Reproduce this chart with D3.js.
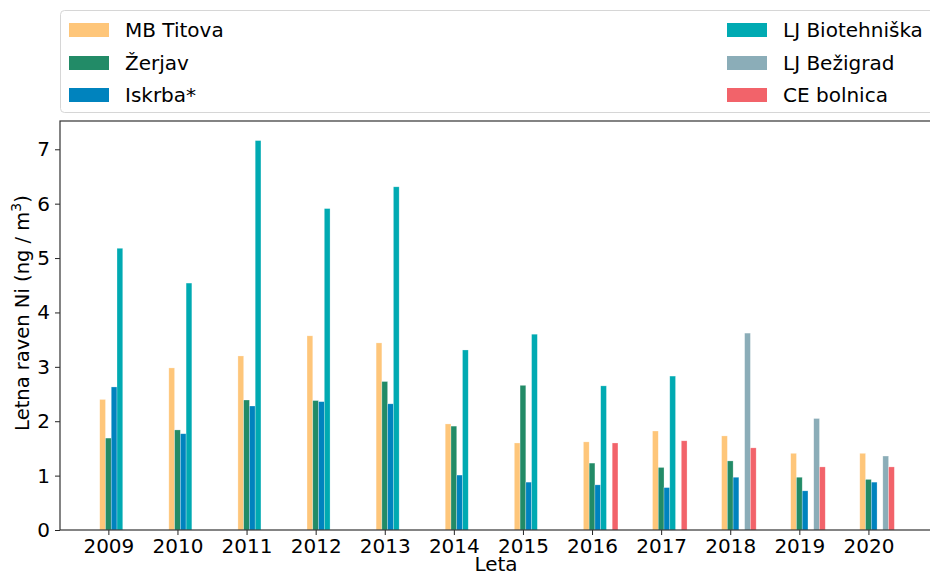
<!DOCTYPE html>
<html>
<head>
<meta charset="utf-8">
<script src="https://cdn.jsdelivr.net/npm/d3@7"></script>
<style>
  html, body { margin: 0; padding: 0; background: #fff; }
  svg { display: block; font-family: "DejaVu Sans", sans-serif; }
</style>
</head>
<body>
<svg id="chart" width="930" height="576"></svg>
<script>
// Annual nickel levels (ng/m3) per measuring station
const years = [2009, 2010, 2011, 2012, 2013, 2014, 2015, 2016, 2017, 2018, 2019, 2020];
const stations = ["MB Titova", "Žerjav", "Iskrba*", "LJ Biotehniška", "LJ Bežigrad", "CE bolnica"];
const mbTitova      = [2.40, 2.98, 3.20, 3.57, 3.44, 1.95, 1.60, 1.62, 1.82, 1.73, 1.41, 1.41];
const zerjav        = [1.69, 1.84, 2.39, 2.38, 2.73, 1.91, 2.66, 1.23, 1.15, 1.27, 0.97, 0.93];
const iskrba        = [2.63, 1.77, 2.28, 2.36, 2.32, 1.01, 0.88, 0.83, 0.78, 0.97, 0.72, 0.88];
const ljBiotehniska = [5.18, 4.54, 7.16, 5.91, 6.31, 3.31, 3.60, 2.65, 2.83, null, null, null];
const ljBezigrad    = [null, null, null, null, null, null, null, null, null, 3.62, 2.05, 1.36];
const ceBolnica     = [null, null, null, null, null, null, null, 1.60, 1.64, 1.51, 1.16, 1.16];
const yTicks = [0, 1, 2, 3, 4, 5, 6, 7];

const seriesValues = [mbTitova, zerjav, iskrba, ljBiotehniska, ljBezigrad, ceBolnica];
const colors = ["#fec67a", "#228b67", "#0083be", "#00aab2", "#8badb8", "#f2636a"];

const svg = d3.select("#chart");
const plot = { left: 60, right: 932, top: 121, bottom: 530 };

const x = d3.scaleLinear().domain([2008.3, 2020.92]).range([plot.left, plot.right]);
const y = d3.scaleLinear().domain([0, 7.52]).range([plot.bottom, plot.top]);
const barW = 1 / 12; // in year units

// Bars
const series = stations.map((name, i) => ({
  name, color: colors[i],
  values: years.map((yr, j) => ({ year: yr, value: seriesValues[i][j] })).filter(d => d.value != null)
}));

const gBars = svg.append("g");
series.forEach((s, i) => {
  gBars.selectAll(null)
    .data(s.values)
    .enter()
    .append("rect")
    .attr("x", d => x(d.year + (i - 1.5) * barW))
    .attr("width", d => x(d.year + (i - 0.5) * barW) - x(d.year + (i - 1.5) * barW))
    .attr("y", d => y(d.value))
    .attr("height", d => y(0) - y(d.value))
    .attr("fill", s.color)
    .attr("stroke", "#ffffff")
    .attr("stroke-opacity", 0.45)
    .attr("stroke-width", 0.6);
});

// Axes
const xAxis = d3.axisBottom(x).tickValues(years).tickFormat(d3.format("d")).tickSize(5).tickPadding(4);
const yAxis = d3.axisLeft(y).tickValues(yTicks).tickFormat(d3.format("d")).tickSize(5).tickPadding(5);

const gx = svg.append("g").attr("transform", `translate(0,${plot.bottom})`).call(xAxis);
const gy = svg.append("g").attr("transform", `translate(${plot.left},0)`).call(yAxis);
[gx, gy].forEach(g => {
  g.select(".domain").remove();
  g.selectAll(".tick line").attr("stroke", "#222").attr("stroke-width", 1);
  g.selectAll(".tick text").attr("fill", "#000").style("font-size", "20px").style("font-family", "DejaVu Sans, sans-serif");
});

// Frame
svg.append("rect")
  .attr("x", plot.left).attr("y", plot.top)
  .attr("width", plot.right - plot.left).attr("height", plot.bottom - plot.top)
  .attr("fill", "none").attr("stroke", "#333").attr("stroke-width", 1.2);

// Axis titles
svg.append("text")
  .attr("x", (plot.left + plot.right) / 2).attr("y", 571)
  .attr("text-anchor", "middle").style("font-size", "20px").attr("fill", "#000")
  .text("Leta");

const yl = svg.append("text")
  .attr("transform", `translate(29,313) rotate(-90)`)
  .attr("text-anchor", "middle").style("font-size", "19.5px").attr("fill", "#000");
yl.append("tspan").text("Letna raven Ni (ng / m");
yl.append("tspan").attr("dy", -8).style("font-size", "14px").text("3");
yl.append("tspan").attr("dy", 8).text(")");

// Legend
const legend = svg.append("g");
legend.append("rect")
  .attr("x", plot.left + 0.5).attr("y", 10.5)
  .attr("width", 900).attr("height", 102)
  .attr("rx", 4).attr("ry", 4)
  .attr("fill", "#fff").attr("stroke", "#d6d6d6").attr("stroke-width", 1);

const colX = [69, 727];
const rowY = [30, 63, 95];
series.forEach((s, i) => {
  const col = Math.floor(i / 3), row = i % 3;
  const g = legend.append("g").attr("transform", `translate(${colX[col]},${rowY[row]})`);
  g.append("rect").attr("x", 0).attr("y", -7).attr("width", 40).attr("height", 14).attr("fill", s.color);
  g.append("text").attr("x", 56).attr("y", 0).attr("dy", "0.35em")
    .style("font-size", "20px").attr("fill", "#000").text(s.name);
});
</script>
</body>
</html>
